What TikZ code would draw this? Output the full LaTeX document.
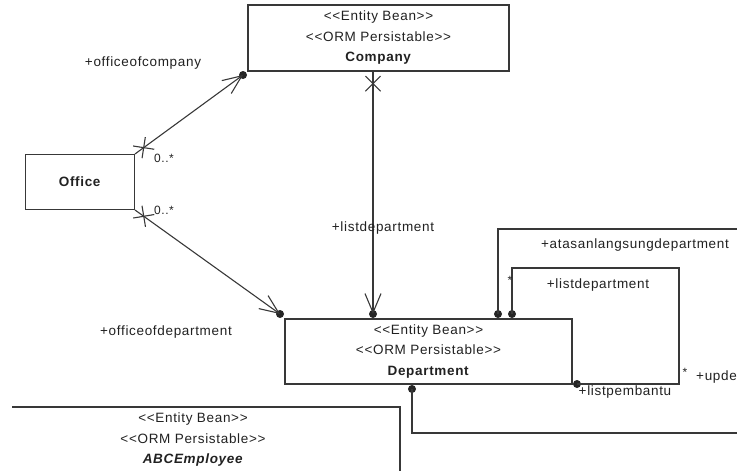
\documentclass[tikz,border=0pt]{standalone}
\usepackage{fontspec}
\setmainfont{Liberation Sans}[LetterSpace=5]
\usetikzlibrary{arrows.meta,shapes.misc}

\definecolor{linegray}{gray}{0.22}
\definecolor{textgray}{gray}{0.13}
\newcommand{\stereo}[1]{<{}<#1>{}>}

\tikzset{
  entity/.style={draw=linegray, line width=1.1pt, align=center, inner sep=0pt, text=textgray,
    font=\fontsize{13.5}{20.5}\selectfont},
  assoc/.style={draw=linegray, line width=1.1pt},
  nav/.style={-{Straight Barb[length=19pt,width=16pt,line width=1.1pt]}},
  endx/.style={cross out, draw=linegray, line width=1.1pt, minimum size=14pt, inner sep=0pt},
  dot/.style={circle, fill=black!85, inner sep=0pt, minimum size=8pt},
  role/.style={text=textgray, inner sep=1pt, font=\fontsize{13.5}{15}\selectfont},
  mult/.style={text=textgray, inner sep=1pt, font=\fontsize{12}{13}\selectfont}
}

\begin{document}
\begin{tikzpicture}[x=1pt,y=-1pt]
	\useasboundingbox (0,0) rectangle (737,471);
	\clip (0,0) rectangle (737,471);

	% classes
	\node[entity, minimum width=261, minimum height=66] (company) at (378.5,38)
		{\stereo{Entity Bean}\\\stereo{ORM Persistable}\\\textbf{Company}};
	\node[entity, minimum width=109, minimum height=55] (office) at (80,182) {\textbf{Office}};
	\node[entity, minimum width=287, minimum height=65] (department) at (428.5,351.5)
		{\stereo{Entity Bean}\\\stereo{ORM Persistable}\\\textbf{Department}};
	\node[entity, draw=none] (employee) at (193,440)
		{\stereo{Entity Bean}\\\stereo{ORM Persistable}\\\textbf{\textit{ABCEmployee}}};
	\draw[assoc] (12,407) -| (400,480);

	% association ends
	\node[dot] (dcompany) at (243,75) {};
	\node[dot] (doffdep) at (280,314) {};
	\node[dot] (dlist) at (373,314) {};
	\node[dot] (dtop) at (498,314) {};
	\node[dot] (dself) at (512,314) {};
	\node[dot] (dright) at (577,384) {};
	\node[dot] (dbottom) at (412,389) {};
	\coordinate (outtop) at (760,229);
	\coordinate (outbottom) at (760,433);

	\draw[assoc,nav] (office.north east) -- (dcompany.center)
		node[endx, pos=0.08, sloped] {};
	\draw[assoc,nav] (office.south east) -- (doffdep.center)
		node[endx, pos=0.06, sloped] {};
	\draw[assoc,nav] (company.south -| dlist) -- (dlist.center)
		node[endx, pos=0.05, sloped] {};
	\draw[assoc] (dtop.center) |- (outtop);
	\draw[assoc] (dself.center) |- (679,268) |- (dright.center);
	\draw[assoc] (dbottom.center) |- (outbottom);

	% roles and multiplicities
	\node[role] at (143,63) {+officeofcompany};
	\node[role] at (166,332) {+officeofdepartment};
	\node[role] at (383,228) {+listdepartment};
	\node[role] at (635,245) {+atasanlangsungdepartment};
	\node[role] at (598,285) {+listdepartment};
	\node[role] at (625,392) {+listpembantu};
	\node[role, anchor=west] at (695,377) {+upde};
	\node[mult] at (164,158) {0..*};
	\node[mult] at (164,210) {0..*};
	\node[mult] at (510,280) {*};
	\node[mult] at (685,372) {*};
\end{tikzpicture}
\end{document}
